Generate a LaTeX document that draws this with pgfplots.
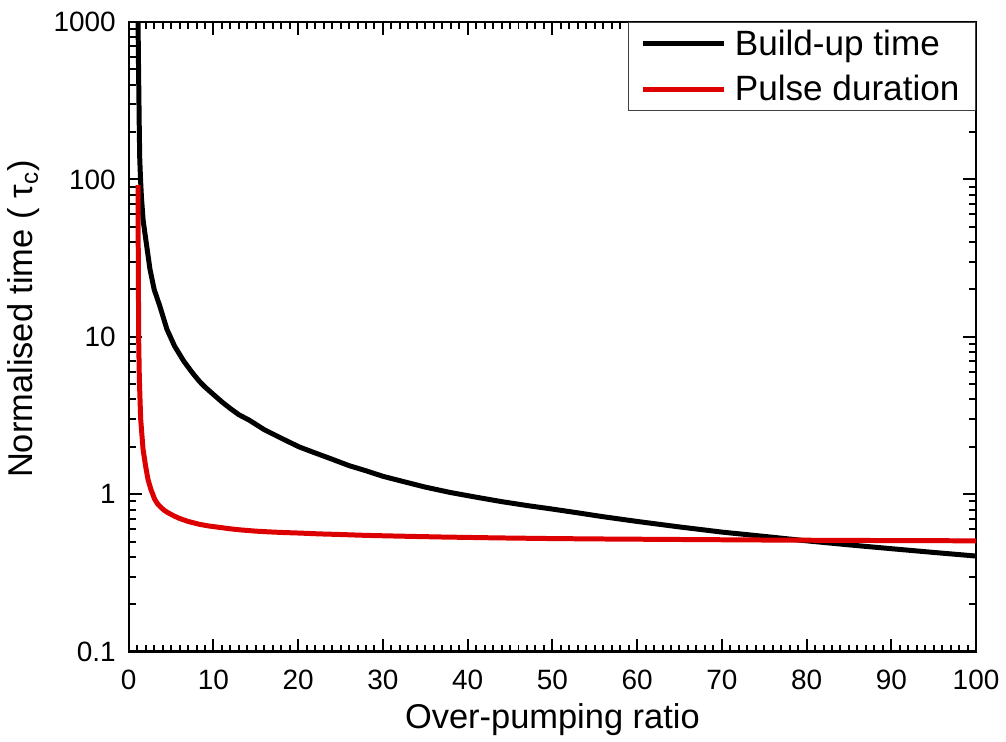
\documentclass[border=0pt]{standalone}
\usepackage{fontspec}
\setmainfont{Liberation Sans}
\usepackage{pgfplots}
\pgfplotsset{compat=1.18}
\definecolor{myred}{RGB}{221,0,0}
\begin{document}
\begin{tikzpicture}
\begin{axis}[
  name=ax,
  at={(0,0)}, anchor=south west,
  scale only axis, width=424.5pt, height=315.5pt,
  ymode=log, xmin=0, xmax=100, ymin=0.1, ymax=1000,
  xtick={0,10,...,100}, minor x tick num=9,
  ytick={0.1,1,10,100,1000}, yticklabels={0.1,1,10,100,1000},
  tick align=inside,
  major tick length=6.5pt, minor tick length=3.5pt,
  every tick/.style={black, line width=1pt},
  axis line style={line width=1.2pt},
  /pgf/number format/assume math mode=true,
  ticklabel style={font=\fontsize{14}{16}\selectfont},
  xticklabel style={yshift=-5.5pt},
  yticklabel style={xshift=-3pt},
  label style={font=\fontsize{17.25}{20}\selectfont},
  xlabel={Over-pumping ratio},
  ylabel={Normalised time ( τ\textsubscript{c})},
  ylabel style={at={(ticklabel cs:0.528)}},
  legend style={at={(1,1)}, anchor=north east, draw=black!75, line width=0.6pt,
    font=\fontsize{17.6}{20}\selectfont, inner xsep=6pt, inner ysep=1.5pt, row sep=4.5pt},
  legend cell align=left,
  legend image code/.code={\draw[#1] (0pt,0pt) -- (41pt,0pt); \path (43pt,0pt);},
]
\addplot[black, line width=2.5pt, line join=round] coordinates {
(1.07,1800) (1.1,1000) (1.15,550) (1.2,330) (1.25,200) (1.3,135) (1.4,98) (1.5,77)
(1.7,55) (2.0,42) (2.5,27) (3,20) (3.65,15.8) (4.5,11.2) (5.4,8.75) (6.5,7.0)
(7.5,5.92) (8.36,5.2) (9,4.8) (10,4.3) (11,3.86) (12,3.5) (13,3.2) (14.25,2.95)
(16,2.57) (18,2.27) (20.1,2.0) (22,1.83) (24,1.67) (26,1.52) (28,1.41) (30,1.30)
(32,1.22) (35,1.11) (38,1.025) (41,0.958) (44,0.898) (47,0.848) (50,0.805)
(53,0.762) (56,0.72) (60,0.672) (65,0.62) (70,0.575) (75,0.54) (80,0.506)
(85,0.477) (90,0.451) (95,0.427) (100,0.405)
};
\addlegendentry{Build-up time}
\addplot[myred, line width=2.5pt, line join=round] coordinates {
(1.1,92) (1.12,40) (1.14,22) (1.16,14) (1.18,9.2) (1.25,5.5) (1.3,4.5) (1.41,3.0)
(1.55,2.4) (1.69,1.93) (2.0,1.5) (2.27,1.245) (2.6,1.08) (3.06,0.93) (3.4,0.87)
(3.8,0.825) (4.2,0.79) (4.6,0.765) (5.3,0.73) (6,0.702) (7,0.672) (8.36,0.644)
(9.5,0.628) (10.5,0.618) (12,0.603) (13.3,0.593) (15,0.583) (16.5,0.577)
(18,0.572) (20.1,0.567) (22.5,0.56) (25,0.555) (28,0.548) (31.9,0.542) (37,0.535)
(43.7,0.528) (50,0.523) (55.5,0.52) (65,0.516) (75,0.512) (85,0.509) (100,0.506)
};
\addlegendentry{Pulse duration}
\end{axis}
\path[use as bounding box] (-64.5pt,-42.5pt) rectangle (438.5pt,326.5pt);
\end{tikzpicture}
\end{document}
